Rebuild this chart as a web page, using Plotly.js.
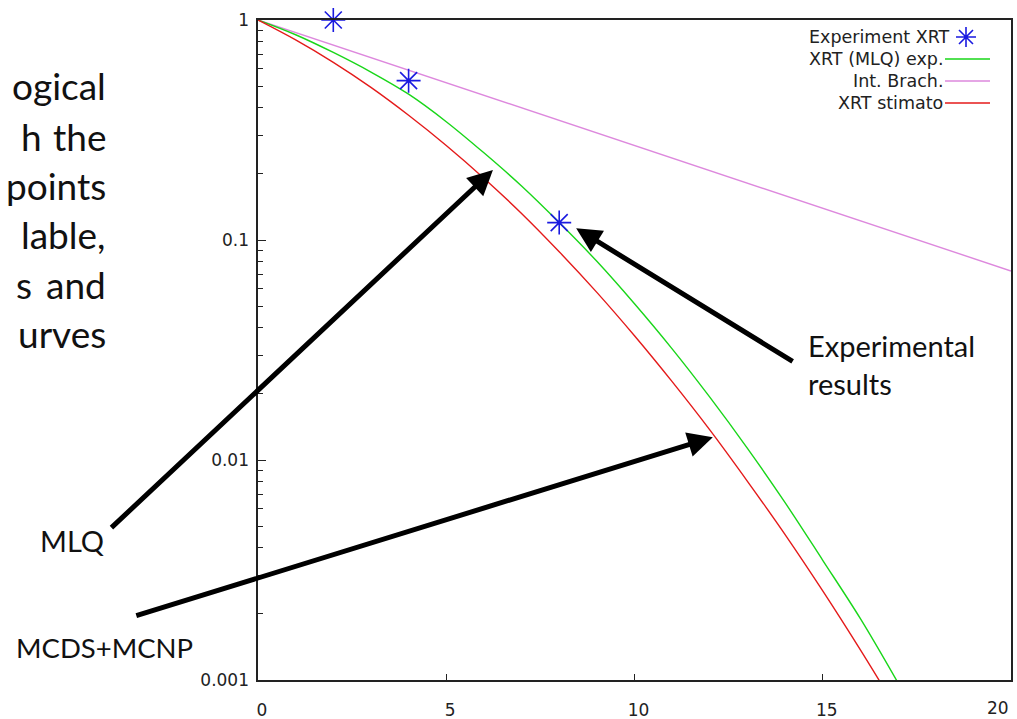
<!DOCTYPE html>
<html>
<head>
<meta charset="utf-8">
<script src="https://cdn.plot.ly/plotly-3.0.1.min.js"></script>
<style>
  html, body { margin: 0; padding: 0; background: #ffffff; }
  #chart { width: 1017px; height: 719px; }
</style>
</head>
<body>
<div id="chart"></div>
<script>
// ---- data ----
const doseX = [0, 1, 2, 3, 4, 5, 6, 7, 8, 9, 10, 11, 12, 13, 14, 15, 16, 17];
const mlqExp = [1, 0.857, 0.712, 0.58, 0.46, 0.345, 0.249, 0.176, 0.120, 0.080, 0.0513, 0.0320, 0.0193, 0.0113, 0.0064, 0.0035, 0.0019, 0.00097];
const xrtStimato = [1, 0.812, 0.642, 0.494, 0.369, 0.269, 0.191, 0.132, 0.0884, 0.0578, 0.0367, 0.0227, 0.0137, 0.0080, 0.00458, 0.00254, 0.00137, 0.00072];
const brachX = [0, 5, 10, 15, 20];
const intBrach = [1, 0.519, 0.269, 0.139, 0.0723];
const expX = [2, 4, 8];
const expXRT = [1.0, 0.53, 0.12];
const xTicks = [0, 5, 10, 15, 20];
const xTickText = ['0', '5', '10', '15', ''];
const lastXTickText = '20';
const yTickVals = [0.001, 0.01, 0.1, 1];
const yTickText = ['0.001', '0.01', '0.1', '1'];
const legendNames = ['Experiment XRT', 'XRT (MLQ) exp.', 'Int. Brach.', 'XRT stimato'];
const paragraphRight = ['ogical', 'the', 'points', 'lable,', 'and', 'urves'];
const paragraphLeft = ['', 'h', '', '', 's', ''];

// ---- layout helpers (pixel -> paper) ----
const L = 258, R = 1011, T = 20, B = 680;
const px = v => (v - L) / (R - L);
const py = v => (B - v) / (B - T);

const cGreen = '#19d619', cPink = '#dd88dd', cRed = '#e41a1a', cBlue = '#1a1ae0';
const tickFont = { family: 'DejaVu Sans', size: 17, color: '#222' };
const slideFont = { family: 'Lato', size: 29, color: '#111' };
const paraFont = { family: 'Lato', size: 37, color: '#111' };

const traces = [
  { x: brachX, y: intBrach, mode: 'lines', line: { color: cPink, width: 1.4 }, showlegend: false, hoverinfo: 'skip' },
  { x: doseX, y: mlqExp, mode: 'lines', line: { color: cGreen, width: 1.4, shape: 'spline' }, showlegend: false },
  { x: doseX, y: xrtStimato, mode: 'lines', line: { color: cRed, width: 1.4, shape: 'spline' }, showlegend: false },
  { x: expX, y: expXRT, mode: 'markers', cliponaxis: false,
    marker: { symbol: 'asterisk-open', size: 20, color: cBlue, line: { color: cBlue, width: 1.6 } }, showlegend: false }
];

const annotations = [];
// paragraph fragments (cut slide text on the left)
const paraY = [86, 136, 185, 234, 284, 334];
paragraphRight.forEach((t, i) => {
  annotations.push({ xref: 'paper', yref: 'paper', x: px(108), y: py(paraY[i]), xanchor: 'right', yanchor: 'middle',
    text: t, showarrow: false, font: paraFont });
});
const paraLeftX = [0, 19, 0, 0, 14, 0];
paragraphLeft.forEach((t, i) => {
  if (!t) return;
  annotations.push({ xref: 'paper', yref: 'paper', x: px(paraLeftX[i]), y: py(paraY[i]), xanchor: 'left', yanchor: 'middle',
    text: t, showarrow: false, font: paraFont });
});
// last x tick label (kept inside the page)
annotations.push({ xref: 'paper', yref: 'paper', x: px(998), y: py(708), xanchor: 'center', yanchor: 'middle',
  text: lastXTickText, showarrow: false, font: tickFont });
// labels
annotations.push({ xref: 'paper', yref: 'paper', x: px(106), y: py(540), xanchor: 'right', yanchor: 'middle', text: 'MLQ', showarrow: false, font: slideFont });
annotations.push({ xref: 'paper', yref: 'paper', x: px(14), y: py(647), xanchor: 'left', yanchor: 'middle', text: 'MCDS+MCNP', showarrow: false,
  font: { family: 'Lato', size: 27.5, color: '#111' } });
annotations.push({ xref: 'paper', yref: 'paper', x: px(806), y: py(364), xanchor: 'left', yanchor: 'middle', align: 'left',
  text: 'Experimental<br>results', showarrow: false, font: slideFont });
// arrows (heads in data coordinates)
const arrowStyle = { showarrow: true, arrowhead: 2, arrowsize: 1, arrowwidth: 5, arrowcolor: '#000', text: '' };
annotations.push(Object.assign({ xref: 'x', yref: 'y', x: 6.24, y: Math.log10(0.208), ax: -383, ay: 359 }, arrowStyle));
annotations.push(Object.assign({ xref: 'x', yref: 'y', x: 8.45, y: Math.log10(0.113), ax: 218, ay: 134 }, arrowStyle));
annotations.push(Object.assign({ xref: 'x', yref: 'y', x: 12.08, y: Math.log10(0.0127), ax: -578, ay: 179 }, arrowStyle));
// legend texts (gnuplot style: text right, sample on the right)
const legY = [37, 59, 81, 103];
legendNames.forEach((t, i) => {
  annotations.push({ xref: 'paper', yref: 'paper', x: px(i === 0 ? 952 : 945), y: py(legY[i]), xanchor: 'right', yanchor: 'middle',
    text: t, showarrow: false, font: { family: 'DejaVu Sans', size: 17.5, color: '#222' } });
});

const shapes = [
  { type: 'line', xref: 'paper', yref: 'paper', x0: px(945), x1: px(990), y0: py(legY[1]), y1: py(legY[1]), line: { color: cGreen, width: 1.4 } },
  { type: 'line', xref: 'paper', yref: 'paper', x0: px(945), x1: px(990), y0: py(legY[2]), y1: py(legY[2]), line: { color: cPink, width: 1.4 } },
  { type: 'line', xref: 'paper', yref: 'paper', x0: px(945), x1: px(990), y0: py(legY[3]), y1: py(legY[3]), line: { color: cRed, width: 1.4 } },
  { type: 'path', xref: 'paper', yref: 'paper', xsizemode: 'pixel', ysizemode: 'pixel', xanchor: px(966), yanchor: py(legY[0]),
    path: 'M-10,0L10,0M0,-10L0,10M-7,-7L7,7M-7,7L7,-7', line: { color: cBlue, width: 1.6 } }
];

const layout = {
  width: 1017, height: 719,
  margin: { l: L, r: 1017 - R, t: T, b: 719 - B, pad: 0 },
  paper_bgcolor: '#ffffff', plot_bgcolor: '#ffffff',
  showlegend: false,
  xaxis: {
    range: [0, 20], tickvals: xTicks, ticktext: xTickText, ticks: 'inside', ticklen: 6, tickwidth: 1, tickcolor: '#222',
    showline: true, linecolor: '#222', linewidth: 1.6, mirror: true, showgrid: false, zeroline: false,
    tickfont: tickFont, ticklabelstandoff: 14, ticklabelshift: 4
  },
  yaxis: {
    type: 'log', range: [-3, 0], tickvals: yTickVals, ticktext: yTickText, ticks: 'inside', ticklen: 8, tickwidth: 1, tickcolor: '#222',
    showline: true, linecolor: '#222', linewidth: 1.6, mirror: true, showgrid: false, zeroline: false,
    tickfont: tickFont, ticklabelstandoff: 4,
    minor: { ticks: 'inside', ticklen: 5, tickwidth: 1, tickcolor: '#222', dtick: 'D1', showgrid: false }
  },
  annotations: annotations,
  shapes: shapes
};

Plotly.newPlot('chart', traces, layout, { staticPlot: true, displayModeBar: false });
</script>
</body>
</html>
